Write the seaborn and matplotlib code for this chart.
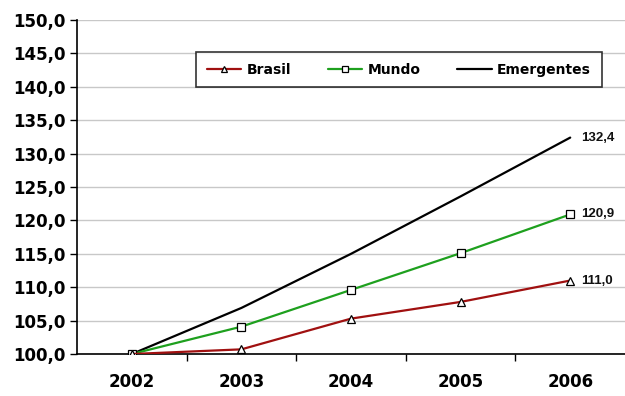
import matplotlib
matplotlib.use("Agg")
import matplotlib.pyplot as plt
from matplotlib.ticker import FixedLocator, FuncFormatter
import seaborn as sns
import pandas as pd

anos = ["2002", "2003", "2004", "2005", "2006"]
brasil = [100.0, 100.7, 105.3, 107.8, 111.0]
mundo = [100.0, 104.1, 109.6, 115.1, 120.9]
emergentes = [100.0, 106.9, 115.0, 123.6, 132.4]
rotulos_finais = ["111,0", "120,9", "132,4"]
y_ticks = [100, 105, 110, 115, 120, 125, 130, 135, 140, 145, 150]

sns.set_theme(style="white")
plt.rcParams["font.family"] = ["DejaVu Sans"]
plt.rcParams["text.color"] = "black"
plt.rcParams["xtick.color"] = "black"
plt.rcParams["ytick.color"] = "black"

df = pd.DataFrame({
    "pos": list(range(len(anos))) * 3,
    "valor": brasil + mundo + emergentes,
    "serie": ["Brasil"] * 5 + ["Mundo"] * 5 + ["Emergentes"] * 5,
})

fig = plt.figure(figsize=(6.25, 3.96), dpi=100)
ax = fig.add_axes([0.1232, 0.106, 0.8768, 0.8434])

estilos = {
    "Emergentes": dict(color="black", marker=None),
    "Mundo": dict(color="#1ea01e", marker="s"),
    "Brasil": dict(color="#a01010", marker="^"),
}
for nome in ["Emergentes", "Mundo", "Brasil"]:
    st = estilos[nome]
    sub = df[df["serie"] == nome]
    kw = dict(lw=1.6, color=st["color"], label=nome, ax=ax, zorder=3)
    if st["marker"]:
        kw.update(marker=st["marker"], markersize=5.2, markerfacecolor="white",
                  markeredgecolor="black", markeredgewidth=0.9)
    sns.lineplot(data=sub, x="pos", y="valor", **kw)

# end-of-line value labels
for serie, txt in zip([brasil, mundo, emergentes], rotulos_finais):
    ax.annotate(txt, (4, serie[-1]), xytext=(8, 0), textcoords="offset points",
                va="center", ha="left", fontsize=9.5, fontweight="bold",
                color="#111111", family="Liberation Sans")

ax.set_xlim(-0.5, 4.5)
ax.set_ylim(100, 150)
ax.set_xticks(range(len(anos)))
ax.set_xticklabels(anos)
ax.xaxis.set_minor_locator(FixedLocator([0.5, 1.5, 2.5, 3.5]))
ax.tick_params(axis="x", which="major", length=0, pad=14, labelsize=12, labelcolor="black")
ax.tick_params(axis="x", which="minor", length=5, width=1, color="black", direction="out", bottom=True)
ax.set_yticks(y_ticks)
ax.yaxis.set_major_formatter(FuncFormatter(lambda v, p: f"{v:.1f}".replace(".", ",")))
ax.tick_params(axis="y", length=5, width=1, color="black", direction="out", left=True,
               labelsize=12, pad=3, labelcolor="black")
for lab in ax.get_xticklabels() + ax.get_yticklabels():
    lab.set_fontweight("bold")

ax.grid(axis="y", color="#c8c8c8", lw=1)
ax.set_axisbelow(True)
for s in ["top", "right"]:
    ax.spines[s].set_visible(False)
for s in ["left", "bottom"]:
    ax.spines[s].set_color("black")
    ax.spines[s].set_linewidth(1.2)
ax.set_xlabel("")
ax.set_ylabel("")

handles, labels = ax.get_legend_handles_labels()
order = [labels.index(n) for n in ["Brasil", "Mundo", "Emergentes"]]
leg = ax.legend([handles[i] for i in order], [labels[i] for i in order],
                loc="upper left", bbox_to_anchor=(0.2176, 0.904), ncol=3,
                frameon=True, fancybox=False, edgecolor="black", borderaxespad=0,
                prop=dict(weight="bold", size=10), handlelength=2.5,
                columnspacing=2.6, borderpad=0.75, handletextpad=0.4,
                labelcolor="black")
leg.get_frame().set_linewidth(1.2)
for h in leg.legend_handles:
    h.set_markersize(4.5)

fig.savefig("out.png", dpi=100)
